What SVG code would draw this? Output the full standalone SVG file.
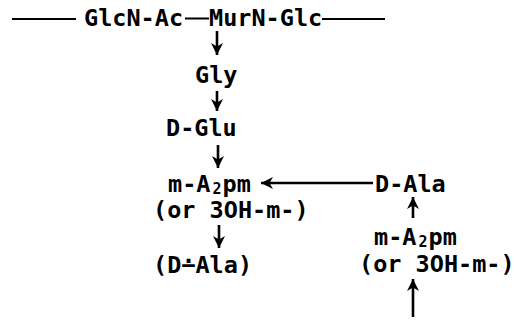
<svg xmlns="http://www.w3.org/2000/svg" width="514" height="322" viewBox="0 0 514 322">
<style>
  text { font-family: "DejaVu Sans Mono", "Liberation Mono", monospace; font-size: 23.5px; font-weight: bold; fill: #000; }
  .sub { font-size: 15px; }
  .ln { stroke: #000; stroke-width: 2; fill: none; }
  .ar { stroke: #000; stroke-width: 2.6; fill: none; marker-end: url(#ah); }
</style>
<defs>
  <marker id="ah" markerUnits="userSpaceOnUse" markerWidth="16" markerHeight="16" refX="12" refY="6.5" orient="auto">
    <path d="M0,0.5 L12,6.5 L0,12.5 L3.5,6.5 Z" fill="#000"/>
  </marker>
</defs>
<rect width="514" height="322" fill="#fff"/>
<g id="connectors">
  <line class="ln" x1="12" y1="19" x2="76" y2="19"/>
  <line class="ln" x1="185" y1="18.5" x2="209" y2="18.5"/>
  <line class="ln" x1="322" y1="19" x2="385" y2="19"/>
  <line class="ar" x1="217" y1="31" x2="217" y2="55"/>
  <line class="ar" x1="217" y1="91" x2="217" y2="111"/>
  <line class="ar" x1="218" y1="145" x2="218" y2="168"/>
  <line class="ar" x1="219" y1="225" x2="219" y2="248"/>
  <line class="ar" x1="373" y1="183" x2="261" y2="183"/>
  <line class="ar" x1="413" y1="218" x2="413" y2="197"/>
  <line class="ar" x1="413" y1="317" x2="413" y2="279"/>
</g>
<g id="glcnac"><text x="84" y="26">GlcN-Ac</text></g>
<g id="murnglc"><text x="209" y="26">MurN-Glc</text></g>
<g id="gly"><text x="195" y="83">Gly</text></g>
<g id="dglu"><text x="166" y="136">D-Glu</text></g>
<g id="a2pm-left">
  <text x="168" y="192">m-A<tspan class="sub" dx="2" dy="1.5">2</tspan><tspan dx="1" dy="-1.5">pm</tspan></text>
  <text x="153" y="218">(or 3OH-m-)</text>
</g>
<g id="dala-bottom"><text x="153" y="273">(D∸Ala)</text></g>
<g id="dala-right"><text x="375" y="192">D-Ala</text></g>
<g id="a2pm-right">
  <text x="374" y="245">m-A<tspan class="sub" dx="2" dy="1.5">2</tspan><tspan dx="1" dy="-1.5">pm</tspan></text>
  <text x="359" y="272">(or 3OH-m-)</text>
</g>
</svg>
